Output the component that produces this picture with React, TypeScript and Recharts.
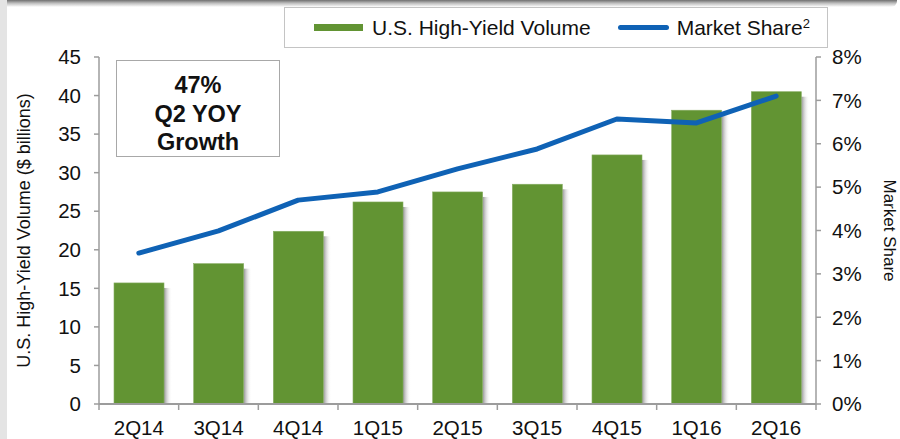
import React from "react";
import { ComposedChart, Bar, Line, XAxis, YAxis } from "recharts";

const quarters = ["2Q14", "3Q14", "4Q14", "1Q15", "2Q15", "3Q15", "4Q15", "1Q16", "2Q16"];
const volume = [15.7, 18.2, 22.4, 26.2, 27.5, 28.5, 32.3, 38.1, 40.5];
const marketShare = [3.48, 3.99, 4.7, 4.89, 5.42, 5.88, 6.57, 6.48, 7.1];
const volumeTicks = [0, 5, 10, 15, 20, 25, 30, 35, 40, 45];
const shareTicks = [0, 1, 2, 3, 4, 5, 6, 7, 8];

const data = quarters.map((q, i) => ({
  quarter: q,
  volume: volume[i],
  share: marketShare[i],
}));

const GREEN = "#629433";
const BLUE = "#0f62b5";
const AXIS = "#9c9c9c";
const FONT = "'Liberation Sans', Arial, sans-serif";

const PLOT_LEFT = 99;
const PLOT_RIGHT = 816;
const BAND = (PLOT_RIGHT - PLOT_LEFT) / quarters.length;

const ShadowBar = (props: any) => {
  const { x, y, width, height, index } = props;
  const id = `barShadow${index}`;
  return (
    <g>
      <defs>
        <linearGradient id={id} x1="0" y1="0" x2="1" y2="0">
          <stop offset="0%" stopColor="#6f6f6f" stopOpacity={0.75} />
          <stop offset="100%" stopColor="#ffffff" stopOpacity={0} />
        </linearGradient>
      </defs>
      <rect x={x + width} y={y + 5} width={8} height={height - 5} fill={`url(#${id})`} />
      <rect x={x} y={y} width={width} height={height} fill={GREEN} stroke="#86ad62" strokeWidth={0.6} />
    </g>
  );
};

const QuarterTick = (props: any) => {
  const { x, y, payload, index } = props;
  return (
    <g>
      <line x1={x - BAND / 2} x2={x - BAND / 2} y1={y} y2={y + 6} stroke={AXIS} strokeWidth={1.5} />
      {index === quarters.length - 1 && (
        <line x1={x + BAND / 2} x2={x + BAND / 2} y1={y} y2={y + 6} stroke={AXIS} strokeWidth={1.5} />
      )}
      <text x={x} y={y + 31} textAnchor="middle" fill="#111" fontSize={20.5} fontFamily={FONT}>
        {payload.value}
      </text>
    </g>
  );
};

const LeftLabel = (props: any) => {
  const { viewBox } = props;
  const cy = viewBox.y + viewBox.height / 2;
  return (
    <text
      x={24}
      y={cy}
      transform={`rotate(-90 24 ${cy})`}
      textAnchor="middle"
      dominantBaseline="central"
      fill="#111"
      fontSize={18}
      fontFamily={FONT}
    >
      U.S. High-Yield Volume ($ billions)
    </text>
  );
};

const RightLabel = (props: any) => {
  const { viewBox } = props;
  const cy = viewBox.y + viewBox.height / 2;
  return (
    <text
      x={889}
      y={cy}
      transform={`rotate(90 889 ${cy})`}
      textAnchor="middle"
      dominantBaseline="central"
      fill="#111"
      fontSize={17}
      fontFamily={FONT}
    >
      Market Share
    </text>
  );
};

export default function App() {
  return (
    <div
      style={{
        position: "absolute",
        left: 0,
        top: 0,
        width: 900,
        height: 439,
        background: "#fff",
        fontFamily: FONT,
        overflow: "hidden",
      }}
    >
      <div style={{ position: "absolute", left: 0, top: 0, width: 7, height: 439, background: "#e4e4e4" }} />
      <div
        style={{
          position: "absolute",
          left: 7,
          top: 0,
          width: 890,
          height: 7,
          background: "linear-gradient(#6f6f6f, #bdbdbd 45%, #ffffff)",
          borderBottomRightRadius: 6,
        }}
      />

      <div style={{ position: "absolute", left: 0, top: 0 }}>
        <ComposedChart width={900} height={439} data={data} margin={{ top: 57, right: 0, bottom: 0, left: 0 }}>
          <XAxis
            dataKey="quarter"
            height={35}
            axisLine={{ stroke: AXIS, strokeWidth: 2 }}
            tickLine={false}
            tickSize={0}
            tickMargin={0}
            interval={0}
            tick={<QuarterTick />}
          />
          <YAxis
            yAxisId="left"
            width={99}
            domain={[0, 45]}
            ticks={volumeTicks}
            interval={0}
            axisLine={{ stroke: AXIS, strokeWidth: 1.5 }}
            tickLine={{ stroke: AXIS, strokeWidth: 1.5 }}
            tickSize={5}
            tickMargin={13}
            tick={{ fill: "#111", fontSize: 20.5, fontFamily: FONT }}
            label={<LeftLabel />}
          />
          <YAxis
            yAxisId="right"
            orientation="right"
            width={84}
            domain={[0, 8]}
            ticks={shareTicks}
            interval={0}
            tickFormatter={(v: number) => `${v}%`}
            axisLine={{ stroke: AXIS, strokeWidth: 1.5 }}
            tickLine={{ stroke: AXIS, strokeWidth: 1.5 }}
            tickSize={5}
            tickMargin={11}
            tick={{ fill: "#111", fontSize: 20.5, fontFamily: FONT }}
            label={<RightLabel />}
          />
          <Bar yAxisId="left" dataKey="volume" barSize={50} shape={<ShadowBar />} isAnimationActive={false} />
          <Line
            yAxisId="right"
            type="linear"
            dataKey="share"
            stroke={BLUE}
            strokeWidth={5}
            strokeLinecap="round"
            strokeLinejoin="round"
            dot={false}
            activeDot={false}
            isAnimationActive={false}
          />
        </ComposedChart>
      </div>

      <div
        style={{
          position: "absolute",
          left: 116,
          top: 60,
          width: 164,
          height: 97,
          border: "1.5px solid #a8a8a8",
          background: "#fff",
          textAlign: "center",
          fontWeight: "bold",
          fontSize: 23.5,
          lineHeight: "28.5px",
          paddingTop: 10,
          boxSizing: "border-box",
          color: "#111",
        }}
      >
        <div>47%</div>
        <div>Q2 YOY</div>
        <div>Growth</div>
      </div>

      <div
        style={{
          position: "absolute",
          left: 284,
          top: 7,
          width: 544,
          height: 41,
          border: "1.5px solid #c4c4c4",
          background: "#fff",
          boxSizing: "border-box",
          display: "flex",
          alignItems: "center",
          fontSize: 21,
          color: "#111",
        }}
      >
        <span style={{ display: "inline-block", marginLeft: 29, width: 49, height: 7, background: GREEN }} />
        <span style={{ marginLeft: 9 }}>U.S. High-Yield Volume</span>
        <span
          style={{ display: "inline-block", marginLeft: 27, width: 51, height: 5, borderRadius: 3, background: BLUE }}
        />
        <span style={{ marginLeft: 8 }}>
          Market Share<sup style={{ fontSize: 13, verticalAlign: 7 }}>2</sup>
        </span>
      </div>
    </div>
  );
}
